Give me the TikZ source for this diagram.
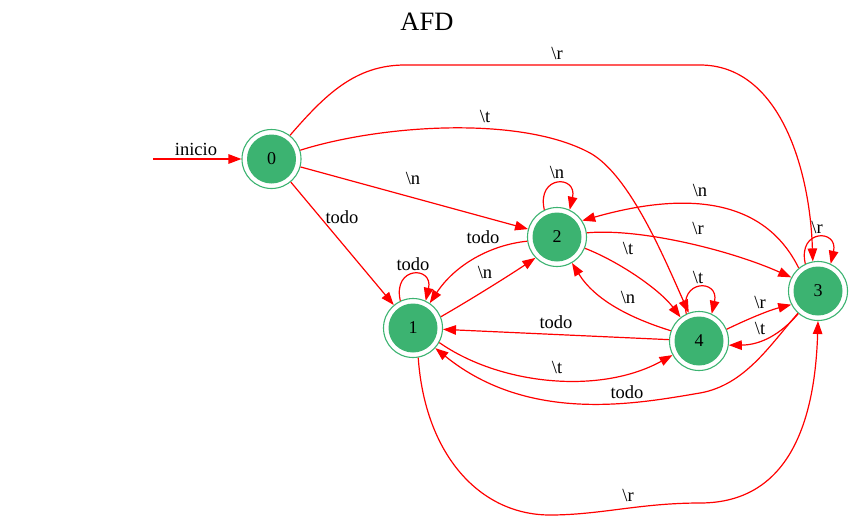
\documentclass[tikz,border=0pt]{standalone}
\usepackage{fontspec}
\setmainfont{Liberation Serif}
\usetikzlibrary{arrows.meta}
\definecolor{sgreen}{HTML}{3CB371}
\begin{document}
\begin{tikzpicture}[x=1pt,y=-1pt,
 st/.style={circle,draw=sgreen,line width=1.1pt,minimum size=59pt,inner sep=0pt,
   font=\fontsize{18}{20}\selectfont,
   path picture={\fill[sgreen] (path picture bounding box.center) circle[radius=24.5pt];}},
 tr/.style={draw=red,line width=1.2pt,-{Triangle[length=13pt,width=9.5pt]}},
 lbl/.style={font=\fontsize{18.5}{20}\selectfont,inner sep=0pt}]
\useasboundingbox (0,0) rectangle (853,522);
\node[font=\fontsize{26.5}{28}\selectfont,inner sep=0pt] (title) at (427,22) {AFD};
\node[st] (n0) at (271.5,159) {0};
\node[st] (n1) at (413,328) {1};
\node[st] (n2) at (557,237) {2};
\node[st] (n3) at (818,291) {3};
\node[st] (n4) at (699,341) {4};
\coordinate (s) at (153,159);
% edges
\draw[tr] (s) -- (n0);
\draw[tr] (n0.52) .. controls (325,95) and (355,65) .. (405,65) -- (700,65) .. controls (780,65) and (810,170) .. (n3.100);
\draw[tr] (n0.17) .. controls (380,125) and (520,115) .. (590,153) .. controls (630,175) and (665,260) .. (n4.110);
\draw[tr] (n0) -- (n2);
\draw[tr] (n0) -- (n1);
\draw[tr] (n1.115) .. controls +(-8,-35) and +(8,-35) .. (n1.65);
\draw[tr] (n2.115) .. controls +(-8,-35) and +(8,-35) .. (n2.65);
\draw[tr] (n4.115) .. controls +(-8,-35) and +(8,-35) .. (n4.65);
\draw[tr] (n3.115) .. controls +(-8,-35) and +(8,-35) .. (n3.65);
\draw[tr] (n2.188) .. controls (490,245) and (455,265) .. (n1.56);
\draw[tr] (n1.22) .. controls (470,300) and (510,275) .. (n2.224);
\draw[tr] (n4) -- (n1);
\draw[tr] (n1.-29) .. controls (500,385) and (600,395) .. (n4.208);
\draw[tr] (n3.228) .. controls (770,345) and (745,385) .. (700,393) .. controls (640,403) and (530,425) .. (n1.-42);
\draw[tr] (n1.-80) .. controls (425,455) and (480,515) .. (550,515) .. controls (600,515) and (640,503) .. (700,503) .. controls (790,503) and (815,420) .. (n3.-90);
\draw[tr] (n2.-22) .. controls (620,262) and (660,290) .. (n4.128);
\draw[tr] (n2.8) .. controls (640,228) and (730,250) .. (n3.153);
\draw[tr] (n3.130) .. controls (765,200) and (690,190) .. (n2.33);
\draw[tr] (n4.160) .. controls (630,318) and (595,300) .. (n2.-60);
\draw[tr] (n4.23) .. controls (750,318) and (770,310) .. (n3.207);
\draw[tr] (n3.229) .. controls (780,335) and (760,345) .. (n4.-8);
% labels
\node[lbl] (linicio) at (196,149) {inicio};
\node[lbl] (l03) at (557,53) {\textbackslash r};
\node[lbl] (l04) at (485,116) {\textbackslash t};
\node[lbl] (l02) at (413,178) {\textbackslash n};
\node[lbl] (l01) at (342,217) {todo};
\node[lbl] (l11) at (413,264) {todo};
\node[lbl] (l22) at (557,172) {\textbackslash n};
\node[lbl] (l21) at (483,237) {todo};
\node[lbl] (l12) at (485,272) {\textbackslash n};
\node[lbl] (l41) at (556,322) {todo};
\node[lbl] (l14) at (557,367) {\textbackslash t};
\node[lbl] (l31) at (627,392) {todo};
\node[lbl] (l13) at (628,495) {\textbackslash r};
\node[lbl] (l24) at (628,248) {\textbackslash t};
\node[lbl] (l23) at (698,228) {\textbackslash r};
\node[lbl] (l32) at (700,190) {\textbackslash n};
\node[lbl] (l42) at (628,297) {\textbackslash n};
\node[lbl] (l44) at (698,277) {\textbackslash t};
\node[lbl] (l33) at (817,227) {\textbackslash r};
\node[lbl] (l43) at (760,302) {\textbackslash r};
\node[lbl] (l34) at (760,328) {\textbackslash t};
\end{tikzpicture}
\end{document}
